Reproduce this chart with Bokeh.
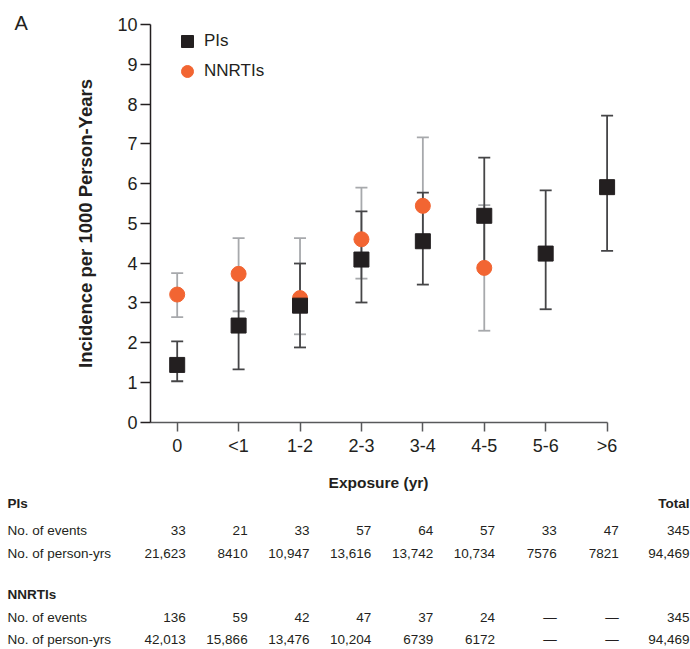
from bokeh.plotting import figure
from bokeh.models import (ColumnDataSource, Range1d, FixedTicker, Legend, LegendItem)
from bokeh.core.properties import value
from bokeh.embed import file_html
from bokeh.resources import INLINE

# ---------------- data ----------------
categories = ["0", "<1", "1-2", "2-3", "3-4", "4-5", "5-6", ">6"]

pi_rate = [1.44, 2.43, 2.93, 4.09, 4.55, 5.19, 4.24, 5.91]
pi_lower = [1.03, 1.33, 1.88, 3.01, 3.46, 3.90, 2.84, 4.31]
pi_upper = [2.03, 3.81, 3.99, 5.30, 5.77, 6.65, 5.83, 7.71]

nnrti_cats = ["0", "<1", "1-2", "2-3", "3-4", "4-5"]
nnrti_rate = [3.21, 3.73, 3.12, 4.60, 5.44, 3.88]
nnrti_lower = [2.64, 2.79, 2.21, 3.61, 4.55, 2.30]
nnrti_upper = [3.75, 4.63, 4.63, 5.90, 7.16, 5.46]

y_ticks = list(range(0, 11))

pi_events = ["33", "21", "33", "57", "64", "57", "33", "47"]
pi_person_yrs = ["21,623", "8410", "10,947", "13,616", "13,742", "10,734", "7576", "7821"]
pi_total = ["345", "94,469"]
nnrti_events = ["136", "59", "42", "47", "37", "24", "\u2014", "\u2014"]
nnrti_person_yrs = ["42,013", "15,866", "13,476", "10,204", "6739", "6172", "\u2014", "\u2014"]
nnrti_total = ["345", "94,469"]

FONT = "Liberation Sans"
DARK = "#231f20"
ORANGE = "#f26532"

W, H = 690, 649

# one frame over the whole canvas; axes are pinned with fixed_location
p = figure(width=W, height=H, output_backend="svg", toolbar_location=None,
           x_range=Range1d(-2.877, 8.358), y_range=Range1d(-5.715, 10.603),
           min_border=0, min_border_left=0, min_border_right=0,
           min_border_top=0, min_border_bottom=0)
p.extra_y_ranges = {"px": Range1d(H, 0)}     # pixel rows for the table below the chart
p.outline_line_color = None
p.grid.visible = False

idx = {c: i for i, c in enumerate(categories)}
pi_src = ColumnDataSource(dict(x=[idx[c] for c in categories], y=pi_rate, lo=pi_lower, hi=pi_upper))
nn_src = ColumnDataSource(dict(x=[idx[c] for c in nnrti_cats], y=nnrti_rate, lo=nnrti_lower, hi=nnrti_upper))

for src, col in ((nn_src, "#a7a9ac"), (pi_src, "#454547")):
    p.segment(x0="x", y0="lo", x1="x", y1="hi", source=src, line_color=col, line_width=1.8)
    p.scatter(x="x", y="lo", source=src, marker="dash", size=12, line_color=col, line_width=1.8)
    p.scatter(x="x", y="hi", source=src, marker="dash", size=12, line_color=col, line_width=1.8)

r_nn = p.scatter(x="x", y="y", source=nn_src, marker="circle", size=15,
                 fill_color=ORANGE, line_color=ORANGE)
r_pi = p.scatter(x="x", y="y", source=pi_src, marker="square", size=15,
                 fill_color=DARK, line_color=DARK)

# axes
xa = p.xaxis[0]
xa.fixed_location = 0
xa.ticker = FixedTicker(ticks=list(range(len(categories))))
xa.major_label_overrides = {i: c for i, c in enumerate(categories)}
xa.bounds = (-0.435, 7)
xa.major_tick_out = 9
xa.major_tick_in = 0
xa.minor_tick_line_color = None
xa.axis_line_color = "#58595b"
xa.axis_line_width = 1.5
xa.major_tick_line_color = "#58595b"
xa.major_tick_line_width = 1.5
xa.major_label_text_font = FONT
xa.major_label_text_font_size = "18px"
xa.major_label_text_color = DARK
xa.major_label_standoff = 5

ya = p.yaxis[0]
ya.fixed_location = -0.435
ya.ticker = FixedTicker(ticks=y_ticks)
ya.bounds = (0, 10)
ya.major_tick_out = 10
ya.major_tick_in = 0
ya.minor_tick_line_color = None
ya.axis_line_color = DARK
ya.axis_line_width = 1.5
ya.major_tick_line_color = DARK
ya.major_tick_line_width = 1.5
ya.major_label_text_font = FONT
ya.major_label_text_font_size = "18px"
ya.major_label_text_color = DARK
ya.major_label_standoff = 3
ya.axis_label = "Incidence per 1000 Person-Years"
ya.axis_label_text_font = FONT
ya.axis_label_text_font_size = "18.5px"
ya.axis_label_text_font_style = "bold"
ya.axis_label_text_color = DARK
ya.axis_label_standoff = 18

legend = Legend(items=[LegendItem(label="PIs", renderers=[r_pi]),
                       LegendItem(label="NNRTIs", renderers=[r_nn])],
                location=(172, 563), orientation="vertical",
                glyph_width=30, glyph_height=30, label_height=30, spacing=-3,
                padding=0, margin=0, label_standoff=2,
                border_line_color=None, background_fill_alpha=0,
                label_text_font=FONT, label_text_font_size="17px", label_text_color=DARK)
p.add_layout(legend, "center")

# ---------------- panel letter, x-axis title and table ----------------
COLX = 0.14
TOTX = 8.342
LABX = -2.763
Y_A, Y_XLAB, Y_HEAD1, Y_EV1, Y_PY1, Y_HEAD2, Y_EV2, Y_PY2 = 22, 482, 503, 530, 552.5, 594, 616.5, 639

common = dict(y_range_name="px", text_baseline="middle", text_font=value(FONT), text_color=DARK)

p.text(x=[-2.649], y=[Y_A], text=["A"], text_align="left", text_font_size="20px", **common)
p.text(x=[3.278], y=[Y_XLAB], text=["Exposure (yr)"], text_align="center",
       text_font_size="15.5px", text_font_style="bold", **common)

num_x, num_y, num_t = [], [], []
for vals, yy, tv in ((pi_events, Y_EV1, pi_total[0]), (pi_person_yrs, Y_PY1, pi_total[1]),
                     (nnrti_events, Y_EV2, nnrti_total[0]), (nnrti_person_yrs, Y_PY2, nnrti_total[1])):
    for i, v in enumerate(vals):
        num_x.append(i * 1.007 + COLX)
        num_y.append(yy)
        num_t.append(v)
    num_x.append(TOTX)
    num_y.append(yy)
    num_t.append(tv)

p.text(x="x", y="y", text="t", source=ColumnDataSource(dict(x=num_x, y=num_y, t=num_t)),
       text_align="right", text_font_size="13.5px", **common)

p.text(x=[LABX] * 4, y=[Y_EV1, Y_PY1, Y_EV2, Y_PY2],
       text=["No. of events", "No. of person-yrs", "No. of events", "No. of person-yrs"],
       text_align="left", text_font_size="13.5px", **common)

p.text(x=[LABX, LABX], y=[Y_HEAD1, Y_HEAD2], text=["PIs", "NNRTIs"],
       text_align="left", text_font_size="13.5px", text_font_style="bold", **common)

p.text(x=[TOTX], y=[Y_HEAD1], text=["Total"], text_align="right",
       text_font_size="13.5px", text_font_style="bold", **common)

open("out.html", "w").write(file_html(p, INLINE))
